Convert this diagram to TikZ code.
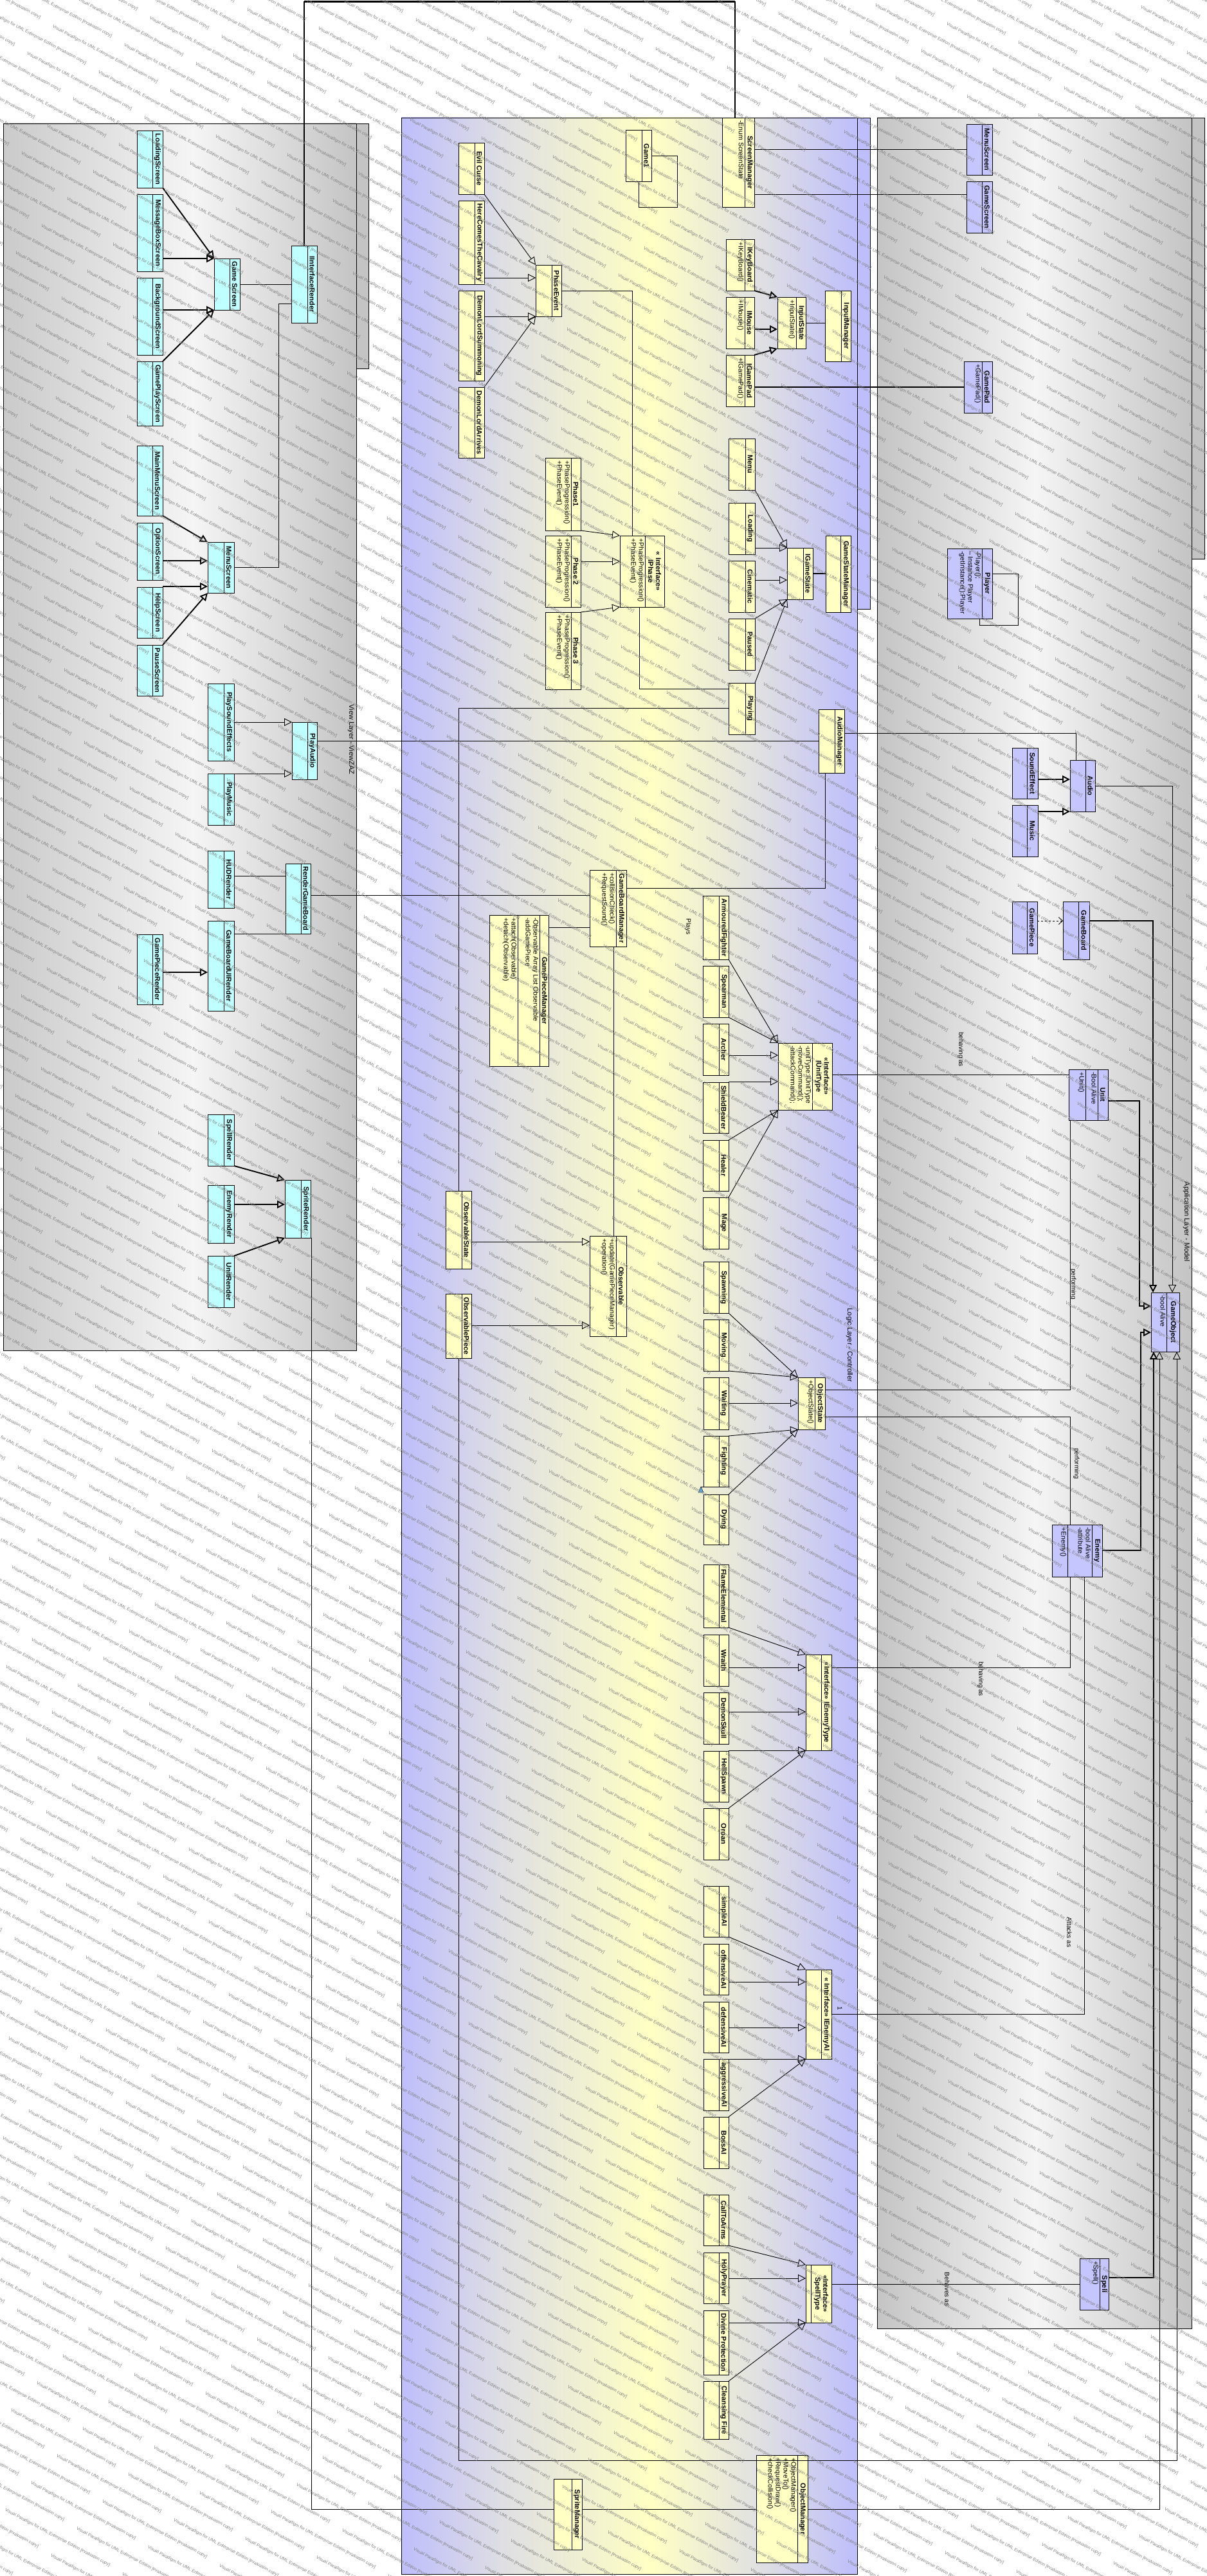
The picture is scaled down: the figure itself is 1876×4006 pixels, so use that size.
\documentclass[tikz,border=0pt]{standalone}
\usepackage{fontspec}
\setmainfont{Liberation Sans}
\usetikzlibrary{arrows.meta,calc}
\definecolor{cy}{RGB}{192,255,255}
\definecolor{ye}{RGB}{255,255,196}
\definecolor{lv}{RGB}{198,198,255}
\definecolor{pbl}{RGB}{190,190,252}
\definecolor{pgr}{RGB}{224,224,226}
\definecolor{pye}{RGB}{255,255,196}
\definecolor{gdk}{RGB}{196,196,196}
\definecolor{glt}{RGB}{245,245,245}
\definecolor{wmc}{RGB}{128,128,128}
\newcommand\nmfont{\fontsize{11}{12}\selectfont\bfseries}
\newcommand\atfont{\fontsize{10.5}{12}\selectfont}
\tikzset{
 clsbox/.style={draw=black, line width=0.9pt, inner sep=0pt, outer sep=0pt, rectangle},
 clsname/.style={rotate=-90, font=\nmfont, align=center, inner sep=0pt},
 clsattr/.style={rotate=-90, anchor=north west, font=\atfont, align=left, inner sep=0pt},
 conn/.style={line width=0.9pt},
 connT/.style={line width=1.9pt},
 gen/.style={conn, -{Triangle[open,length=12pt,width=12pt]}},
 genT/.style={connT, -{Triangle[open,length=12pt,width=12pt]}},
 dep/.style={conn, dashed, -{Straight Barb[length=6pt,width=11pt]}},
 lbl/.style={rotate=-90, font=\fontsize{10}{11}\selectfont, inner sep=0pt},
 plbl/.style={rotate=-90, font=\fontsize{11}{12}\selectfont, inner sep=0pt},
 wm/.style={rotate=-28, anchor=west, font=\fontsize{6.8}{7}\selectfont, text=wmc, inner sep=0pt},
}
% class box: name, x1, y1, x2, y2, separator x, fill, title, attributes
\newcommand\ucls[9]{%
 \node[clsbox, fill=#7, minimum width={(#4-#2)*1pt}, minimum height={(#5-#3)*1pt}] (#1) at ({(#2+#4)/2},{(#3+#5)/2}) {};
 \draw[line width=0.9pt] (#6,#3) -- (#6,#5);
 \node[clsname] (#1-n) at ({(#6+#4)/2},{(#3+#5)/2}) {#8};
 \if\relax\detokenize{#9}\relax\else\node[clsattr] (#1-a) at ({#6-1.5},{#3+4}) {#9};\fi}
% extra compartment: node, separator x, y1, y2, text
\newcommand\uops[5]{%
 \draw[line width=0.9pt] (#2,#3) -- (#2,#4);
 \node[clsattr] (#1-o) at ({#2-1.5},{#3+4}) {#5};}
% horizontal connector from src east to dst west at offset below dst top
\newcommand\hc[4]{%
 \coordinate (#2x#3) at ($(#3.north west)+(0,#4)$);
 \draw[#1] (#2.east |- #2x#3) -- (#2x#3);}
\begin{document}
\begin{tikzpicture}[x=1pt,y=-1pt]
\useasboundingbox (0,0) rectangle (1876,4006);
\fill[white] (0,0) rectangle (1876,4006);

% ---------- panels ----------
\shade[left color=gdk!90!white, right color=glt] (5,192) rectangle (300,2100);
\shade[left color=glt, right color=gdk] (300,192) rectangle (554,2100);
\draw[line width=0.9pt] (5,192) rectangle (554,2100);
\draw[line width=0.9pt, fill=gdk] (554,192) rectangle (573,573);
\node[plbl] (viewLbl) at (546,1150) {View Layer - ViewZAZ};

\shade[left color=pbl, right color=pgr] (624,183) rectangle (790,4003);
\shade[left color=pgr, right color=pye] (790,183) rectangle (1012,4003);
\shade[left color=pye, right color=pgr] (1012,183) rectangle (1180,4003);
\shade[left color=pgr, right color=pbl] (1180,183) rectangle (1333,4003);
\draw[line width=0.9pt] (624,183) rectangle (1333,4003);
\draw[line width=0.9pt, fill=pbl] (1333,183) rectangle (1353,947);
\node[plbl] (logicLbl) at (1321,2092) {Logic Layer - Controller};

\shade[left color=gdk, right color=glt] (1364,183) rectangle (1610,3621);
\shade[left color=glt, right color=gdk] (1610,183) rectangle (1853,3621);
\draw[line width=0.9pt] (1364,183) rectangle (1853,3621);
\draw[line width=0.9pt, fill=gdk] (1853,183) rectangle (1873,869);
\node[plbl] (appLbl) at (1845,1900) {Application Layer - Model};

% ---------- view layer classes ----------
\ucls{loadingScreen}{213}{203}{253}{292}{237}{cy}{LoadingScreen}{}
\ucls{msgBoxScreen}{213}{302}{253}{422}{237}{cy}{MessageBoxScreen}{}
\ucls{bgScreen}{213}{432}{253}{552}{237}{cy}{BackgroundScreen}{}
\ucls{gamePlayScreen}{213}{562}{253}{662}{237}{cy}{GamePlayScreen}{}
\ucls{gameScreenV}{333}{402}{373}{482}{357}{cy}{Game Screen}{}
\ucls{interfaceRender}{453}{382}{493}{502}{478}{cy}{IInterfaceRender}{}
\ucls{mainMenuScreen}{213}{693}{253}{802}{237}{cy}{MainMenuScreen}{}
\ucls{optionScreen}{213}{813}{253}{902}{237}{cy}{OptionScreen}{}
\ucls{helpScreen}{213}{913}{253}{992}{237}{cy}{HelpScreen}{}
\ucls{pauseScreen}{213}{1003}{253}{1082}{237}{cy}{PauseScreen}{}
\ucls{menuScreenV}{323}{843}{364}{922}{348}{cy}{MenuScreen}{}
\ucls{playSoundEffects}{323}{1063}{364}{1183}{348}{cy}{PlaySoundEffects}{}
\ucls{playMusic}{323}{1203}{364}{1283}{348}{cy}{PlayMusic}{}
\ucls{playAudio}{454}{1123}{493}{1212}{478}{cy}{PlayAudio}{}
\ucls{hudRender}{323}{1323}{364}{1412}{348}{cy}{HUDRender}{}
\ucls{gameBoardUIRender}{323}{1432}{364}{1572}{348}{cy}{GameBoardUIRender}{}
\ucls{gamePieceRender}{213}{1453}{253}{1562}{237}{cy}{GamePieceRender}{}
\ucls{renderGameBoard}{444}{1343}{483}{1452}{468}{cy}{RenderGameBoard}{}
\ucls{spellRender}{323}{1733}{364}{1813}{348}{cy}{SpellRender}{}
\ucls{enemyRender}{323}{1843}{364}{1933}{348}{cy}{EnemyRender}{}
\ucls{unitRender}{323}{1953}{364}{2033}{348}{cy}{UnitRender}{}
\ucls{spriteRender}{443}{1835}{483}{1925}{468}{cy}{SpriteRender}{}

% ---------- logic layer classes ----------
\ucls{evilCurse}{713}{222}{753}{302}{738}{ye}{Evil Curse}{}
\ucls{hereComes}{713}{312}{753}{442}{738}{ye}{HereComesTheCavalry}{}
\ucls{dlSummoning}{713}{452}{753}{592}{738}{ye}{DemonLordSummoning}{}
\ucls{dlArrives}{713}{602}{753}{712}{738}{ye}{DemonLordArrives}{}
\ucls{phaseEvent}{833}{412}{873}{492}{858}{ye}{PhaseEvent}{}
\ucls{game1}{973}{202}{1013}{282}{998}{ye}{Game1}{}
\ucls{screenManager}{1123}{183}{1173}{322}{1158}{ye}{ScreenManager}{-Enum ScreenState}
\ucls{iKeyBoard}{1129}{372}{1173}{452}{1158}{ye}{IKeyBoard}{+IKeyBoard()}
\ucls{iMouse}{1129}{462}{1173}{542}{1158}{ye}{IMouse}{+IMouse()}
\ucls{iGamePad}{1129}{552}{1173}{632}{1158}{ye}{IGamePad}{+IGamePad()}
\ucls{inputState}{1209}{462}{1253}{542}{1238}{ye}{InputState}{+InputState()}
\ucls{inputManager}{1283}{452}{1323}{562}{1308}{ye}{InputManager}{}
\ucls{phase1}{848}{712}{903}{825}{888}{ye}{Phase1}{+PhaseProgression()\\+PhaseEvent()}
\ucls{phase2}{848}{833}{903}{944}{888}{ye}{Phase 2}{+PhaseProgression()\\+PhaseEvent()}
\ucls{phase3}{848}{952}{903}{1072}{888}{ye}{Phase 3}{+PhaseProgression()\\+PhaseEvent()}
\ucls{iPhase}{964}{833}{1033}{944}{1003}{ye}{<< Interface>>\\IPhase}{+PhaseProgression()\\+PhaseEvent()}
\ucls{menu}{1133}{682}{1174}{762}{1159}{ye}{Menu}{}
\ucls{loading}{1133}{782}{1174}{862}{1159}{ye}{Loading}{}
\ucls{cinematic}{1133}{872}{1174}{952}{1159}{ye}{Cinematic}{}
\ucls{paused}{1133}{962}{1174}{1042}{1159}{ye}{Paused}{}
\ucls{playing}{1133}{1062}{1174}{1142}{1159}{ye}{Playing}{}
\ucls{iGameState}{1224}{852}{1264}{932}{1249}{ye}{IGameState}{}
\ucls{gameStateManager}{1284}{833}{1323}{952}{1307}{ye}{GameStateManager}{}
\ucls{audioManager}{1273}{1103}{1313}{1202}{1298}{ye}{AudioManager}{}
\ucls{gameBoardManager}{917}{1353}{974}{1472}{958}{ye}{GameBoardManager}{+collisionCheck()\\+RequestSound()}
\ucls{gamePieceManager}{761}{1423}{853}{1658}{839}{ye}{GamePieceManager}{-Observable Array List Observable\\-addGamePiece}
\uops{gamePieceManager}{805}{1423}{1658}{+attach(Observable)\\+detach(Observable)}
\ucls{observableState}{693}{1852}{733}{1973}{718}{ye}{ObservableState}{}
\ucls{observablePiece}{693}{2012}{733}{2112}{718}{ye}{ObservablePiece}{}
\ucls{observable}{917}{1922}{974}{2078}{958}{ye}{Observable}{+update(GamePieceManager)\\+operation()}
\ucls{armouredFighter}{1093}{1393}{1133}{1492}{1118}{ye}{ArmouredFighter}{}
\ucls{spearman}{1093}{1502}{1133}{1582}{1118}{ye}{Spearman}{}
\ucls{archer}{1093}{1592}{1133}{1672}{1118}{ye}{Archer}{}
\ucls{shieldBearer}{1093}{1683}{1133}{1762}{1118}{ye}{ShieldBearer}{}
\ucls{healer}{1093}{1773}{1133}{1852}{1118}{ye}{Healer}{}
\ucls{mage}{1093}{1862}{1133}{1942}{1118}{ye}{Mage}{}
\ucls{iUnitType}{1210}{1622}{1294}{1726}{1263}{ye}{<<Interface>>\\IUnitType}{-unitType:IUnitType\\-moveCommand();\\-attackCommand();}
\ucls{spawning}{1094}{1962}{1133}{2042}{1118}{ye}{Spawning}{}
\ucls{moving}{1094}{2052}{1133}{2132}{1118}{ye}{Moving}{}
\ucls{waiting}{1094}{2142}{1133}{2223}{1118}{ye}{Waiting}{}
\ucls{fighting}{1094}{2233}{1133}{2312}{1118}{ye}{Fighting}{}
\ucls{dying}{1094}{2324}{1133}{2402}{1118}{ye}{Dying}{}
\ucls{objectState}{1241}{2142}{1283}{2223}{1267}{ye}{ObjectState}{+ObjectState()}
\ucls{flameElemental}{1094}{2433}{1133}{2531}{1118}{ye}{FlameElemental}{}
\ucls{wraith}{1094}{2542}{1133}{2622}{1118}{ye}{Wraith}{}
\ucls{demonSkull}{1094}{2632}{1133}{2712}{1118}{ye}{DemonSkull}{}
\ucls{hellSpawn}{1094}{2723}{1133}{2802}{1118}{ye}{HellSpawn}{}
\ucls{oroan}{1094}{2812}{1133}{2892}{1118}{ye}{Oroan}{}
\ucls{iEnemyType}{1253}{2573}{1293}{2722}{1277}{ye}{<<Interface>> IEnemyType}{}
\ucls{simpleAI}{1094}{2933}{1133}{3012}{1118}{ye}{simpleAI}{}
\ucls{offensiveAI}{1094}{3023}{1133}{3102}{1118}{ye}{offensiveAI}{}
\ucls{defensiveAI}{1094}{3113}{1133}{3192}{1118}{ye}{defensiveAI}{}
\ucls{aggressiveAI}{1094}{3202}{1133}{3282}{1118}{ye}{aggressiveAI}{}
\ucls{bossAI}{1094}{3292}{1133}{3372}{1118}{ye}{BossAI}{}
\ucls{iEnemyAI}{1253}{3063}{1293}{3202}{1277}{ye}{<< Interface>> IEnemyAI}{}
\ucls{callToArms}{1094}{3413}{1133}{3492}{1118}{ye}{CallToArms}{}
\ucls{holyPrayer}{1094}{3503}{1133}{3582}{1118}{ye}{HolyPrayer}{}
\ucls{divineProtection}{1094}{3593}{1133}{3693}{1118}{ye}{Divine Protection}{}
\ucls{cleansingFire}{1094}{3703}{1133}{3793}{1118}{ye}{Cleansing Fire}{}
\ucls{spellType}{1253}{3522}{1293}{3612}{1261}{ye}{<<Interface>>\\SpellType}{}
\ucls{spriteManager}{861}{3855}{905}{3965}{889}{ye}{SpriteManager}{}
\ucls{objectManager}{1176}{3818}{1256}{3985}{1240}{ye}{ObjectManager}{+ObjectManager()\\+MoveTo()\\+RequestDraw()\\+checkCollision()}

% ---------- model layer classes ----------
\ucls{menuScreenM}{1503}{193}{1543}{272}{1527}{lv}{MenuScreen}{}
\ucls{gameScreenM}{1503}{282}{1543}{362}{1527}{lv}{GameScreen}{}
\ucls{gamePad}{1499}{562}{1543}{642}{1527}{lv}{GamePad}{+GamePad()}
\ucls{player}{1473}{853}{1543}{962}{1527}{lv}{Player}{-Player();\\-- Instance Player\\-getInstance():Player}
\ucls{soundEffect}{1574}{1163}{1614}{1242}{1597}{lv}{SoundEffect}{}
\ucls{music}{1574}{1252}{1614}{1332}{1597}{lv}{Music}{}
\ucls{audio}{1664}{1182}{1703}{1262}{1688}{lv}{Audio}{}
\ucls{gamePiece}{1574}{1402}{1613}{1483}{1597}{lv}{GamePiece}{}
\ucls{gameBoard}{1653}{1402}{1694}{1492}{1677}{lv}{GameBoard}{}
\ucls{unit}{1662}{1663}{1723}{1742}{1707}{lv}{Unit}{-Bool Alive}
\uops{unit}{1688}{1663}{1742}{+Unit()}
\ucls{gameObject}{1790}{2010}{1834}{2102}{1814}{lv}{GameObject}{-bool Alive}
\ucls{enemy}{1636}{2371}{1714}{2452}{1698}{lv}{Enemy}{-bool Alive\\-attribute}
\uops{enemy}{1660}{2371}{2452}{+Enemy()}
\ucls{spell}{1679}{3512}{1724}{3592}{1710}{lv}{Spell}{+Spell()}

% ---------- connectors: view layer ----------
\draw[genT] (loadingScreen.south east) -- (gameScreenV.north west);
\hc{genT}{msgBoxScreen}{gameScreenV}{0}
\hc{genT}{bgScreen}{gameScreenV}{80}
\draw[genT] (gamePlayScreen.north east) -- (gameScreenV.south west);
\hc{conn}{gameScreenV}{interfaceRender}{60}
\draw[conn] ([yshift=-30pt]interfaceRender.west) -- ++(-20,0) |- (menuScreenV.east);
\coordinate (topL) at (473,3);
\coordinate (topR) at (1143,3);
\draw[line width=1.4pt] (interfaceRender.north) -- (topL) -- (topR) -- (topR |- screenManager.north);
\draw[line width=3pt] (topL) -- (topR);
\draw[genT] (mainMenuScreen.south east) -- (menuScreenV.north west);
\hc{genT}{optionScreen}{menuScreenV}{29}
\hc{genT}{helpScreen}{menuScreenV}{69}
\draw[genT] (pauseScreen.north east) -- (menuScreenV.south west);
\hc{gen}{playSoundEffects}{playAudio}{0}
\hc{gen}{playMusic}{playAudio}{80}
\hc{conn}{playAudio}{audioManager}{49}
\hc{conn}{hudRender}{renderGameBoard}{19}
\hc{conn}{gameBoardUIRender}{renderGameBoard}{109}
\hc{genT}{gamePieceRender}{gameBoardUIRender}{80}
\hc{conn}{renderGameBoard}{gameBoardManager}{39}
\draw[genT] (spellRender.south east) -- (spriteRender.north west);
\hc{genT}{enemyRender}{spriteRender}{38}
\draw[genT] (unitRender.north east) -- (spriteRender.south west);
\coordinate (smL) at ($(spriteManager.north west)+(0,47)$);
\draw[conn] ([xshift=1pt]spriteRender.south east) |- (smL);

% ---------- connectors: logic layer ----------
\draw[gen] (evilCurse.south east) -- (phaseEvent.north west);
\hc{gen}{hereComes}{phaseEvent}{20}
\hc{gen}{dlSummoning}{phaseEvent}{80}
\draw[gen] (dlArrives.north east) -- (phaseEvent.south west);
\draw[conn] (phaseEvent.east) -| ([xshift=19pt]iPhase.north west);
\draw[conn] (game1.south) -- ++(0,40) -| ($(game1.east)+(40,0)$) -- (game1.east);
\draw[conn] (screenManager.east |- menuScreenM.west) -- (menuScreenM.west);
\hc{conn}{screenManager}{gameScreenM}{20}
\draw[genT] (iKeyBoard.south east) -- (inputState.north west);
\hc{genT}{iMouse}{inputState}{50}
\draw[genT] (iGamePad.north east) -- (inputState.south west);
\draw[conn] (inputState.east) -- (inputState.east -| inputManager.west);
\draw[connT] (iGamePad.east |- gamePad.west) -- (gamePad.west);
\draw[conn] ([yshift=15pt]player.east) -- ++(40,0) -- ++(0,80) -| ([xshift=-20pt]player.south east);
\draw[gen] (phase1.south east) -- (iPhase.north west);
\hc{gen}{phase2}{iPhase}{40}
\draw[gen] (phase3.north east) -- (iPhase.south west);
\coordinate (pl1) at ($(playing.north west)+(0,9)$);
\coordinate (pl2) at ($(playing.north west)+(0,39)$);
\draw[conn] ([xshift=-4.5pt]iPhase.south) |- (pl1);
\draw[conn] (pl2) -| (observableState.north);
\draw[gen] (menu.south east) -- (iGameState.north west);
\hc{gen}{loading}{iGameState}{0}
\hc{gen}{cinematic}{iGameState}{50}
\draw[gen] (paused.north east) -- (iGameState.south west);
\draw[gen] (playing.north east) -- (iGameState.south west);
\draw[connT] (iGameState.east) -- (iGameState.east -| gameStateManager.west);
\draw[conn] ([yshift=12pt]audioManager.east) -| ([xshift=-10pt]audio.north);
\draw[conn] ($(gameBoardManager.north east)+(0,28)$) -| ([xshift=-10pt]audioManager.south);
\hc{conn}{gamePieceManager}{gameBoardManager}{89}
\draw[conn] ([xshift=8.5pt]gameBoardManager.south) -- ([xshift=8.5pt]observable.north);
\node[lbl] (playsLbl) at (1070,1441) {Plays};
\hc{gen}{observableState}{observable}{9}
\hc{gen}{observablePiece}{observable}{139}
\draw[gen] (armouredFighter.south east) -- (iUnitType.north west);
\draw[gen] (spearman.south east) -- (iUnitType.north west);
\hc{gen}{archer}{iUnitType}{19}
\hc{gen}{shieldBearer}{iUnitType}{60}
\draw[gen] (healer.north east) -- (iUnitType.south west);
\draw[gen] (mage.north east) -- (iUnitType.south west);
\coordinate (ut) at ($(unit.north west)+(0,8)$);
\draw[conn] (iUnitType.east |- ut) -- (ut);
\node[lbl] (beh1) at (1494,1632) {behaving as};
\draw[gen] (spawning.south east) -- (objectState.north west);
\draw[gen] (moving.south east) -- (objectState.north west);
\hc{gen}{waiting}{objectState}{40}
\draw[gen] (fighting.north east) -- (objectState.south west);
\draw[gen] (dying.north east) -- (objectState.south west);
\coordinate (fx) at ($(fighting.south west)+(-4,0)$);
\draw[conn] ([xshift=-8pt]fighting.south east) -- (fx);
\fill[fill={rgb,255:red,90;green,170;blue,225}, draw=black, line width=0.4pt] (fx) -- ++(-4,9) -- ++(8,0) -- cycle;
\coordinate (os1) at ($(objectState.north east)+(0,19)$);
\coordinate (os2) at ($(objectState.north east)+(0,61)$);
\draw[conn] (os1) -| ([xshift=-28.5pt]unit.south);
\draw[conn] (os2) -| ([xshift=-11pt]enemy.north);
\node[lbl] (perf1) at (1669,1997) {performing};
\node[lbl] (perf2) at (1674,2276) {performing};
\draw[gen] (flameElemental.south east) -- (iEnemyType.north west);
\hc{gen}{wraith}{iEnemyType}{20}
\hc{gen}{demonSkull}{iEnemyType}{89}
\hc{gen}{hellSpawn}{iEnemyType}{149}
\draw[gen] (oroan.north east) -- (iEnemyType.south west);
\coordinate (et) at ($(iEnemyType.north east)+(0,20)$);
\draw[conn] (et) -| ([xshift=-11pt]enemy.south);
\node[lbl] (beh2) at (1525,2611) {behaving as};
\coordinate (ea) at ($(iEnemyAI.north east)+(0,69)$);
\draw[conn] ([xshift=11pt]enemy.south) |- (ea);
\node[lbl] (att) at (1663,3005) {Attacks as};
\node[lbl] (oneLbl) at (1306,3123) {1};
\draw[gen] (simpleAI.south east) -- (iEnemyAI.north west);
\hc{gen}{offensiveAI}{iEnemyAI}{19}
\hc{gen}{defensiveAI}{iEnemyAI}{90}
\hc{gen}{aggressiveAI}{iEnemyAI}{139}
\draw[gen] (bossAI.north east) -- (iEnemyAI.south west);
\draw[gen] (callToArms.south east) -- (spellType.north west);
\hc{gen}{holyPrayer}{spellType}{21}
\hc{gen}{divineProtection}{spellType}{90}
\draw[gen] (cleansingFire.north east) -- (spellType.south west);
\draw[conn] (spellType.east |- spell.west) -- (spell.west);
\node[lbl] (behaves) at (1473,3560) {Behaves as};
\draw[conn] (spriteManager.east |- smL) -- (smL -| objectManager.west);

% ---------- connectors: model layer ----------
\hc{genT}{soundEffect}{audio}{30}
\hc{genT}{music}{audio}{80}
\draw[gen] ($(audio.north east)+(0,40)$) -| ([xshift=11pt]gameObject.north);
\coordinate (gb) at ($(gameBoard.north west)+(0,30)$);
\draw[dep] (gamePiece.east |- gb) -- (gb);
\draw[genT] ($(gameBoard.north east)+(0,30)$) -| ([xshift=-19pt]gameObject.north);
\draw[genT] ($(unit.north east)+(0,49)$) -- ++(49,0) |- ($(gameObject.north west)+(0,21)$);
\draw[genT] ($(enemy.north east)+(0,40)$) -- ++(60,0) |- ($(gameObject.north west)+(0,62)$);
\draw[genT] ($(spell.north east)+(0,30)$) -| ([xshift=-18pt]gameObject.south);
\draw[gen] (objectManager.east |- smL) -| ([xshift=-9pt]gameObject.south);
\coordinate (obC) at (1830,3826);
\draw[gen] (observablePiece.south) |- (obC) -- (obC |- gameObject.south);

% ---------- watermark ----------
\begin{scope}
\clip (0,0) rectangle (1876,4006);
\foreach \i in {-59,...,18}{%
 \edef\jlo{\the\numexpr(-325-100*\i)/71-1\relax}%
 \edef\jhi{\the\numexpr(3815-100*\i)/71+1\relax}%
 \foreach \j in {\jlo,...,\jhi}{%
  \edef\wx{\the\numexpr 748+182*\i+71*\j\relax}%
  \edef\wy{\the\numexpr 215+100*\i+71*\j\relax}%
  \ifnum\wx>-230 \ifnum\wx<1880 \ifnum\wy>-110 \ifnum\wy<4030
   \node[wm] (wm\i x\j) at (\wx,\wy) {Visual Paradigm for UML Enterprise Edition [evaluation copy]};
  \fi\fi\fi\fi}}
\end{scope}
\end{tikzpicture}
\end{document}
